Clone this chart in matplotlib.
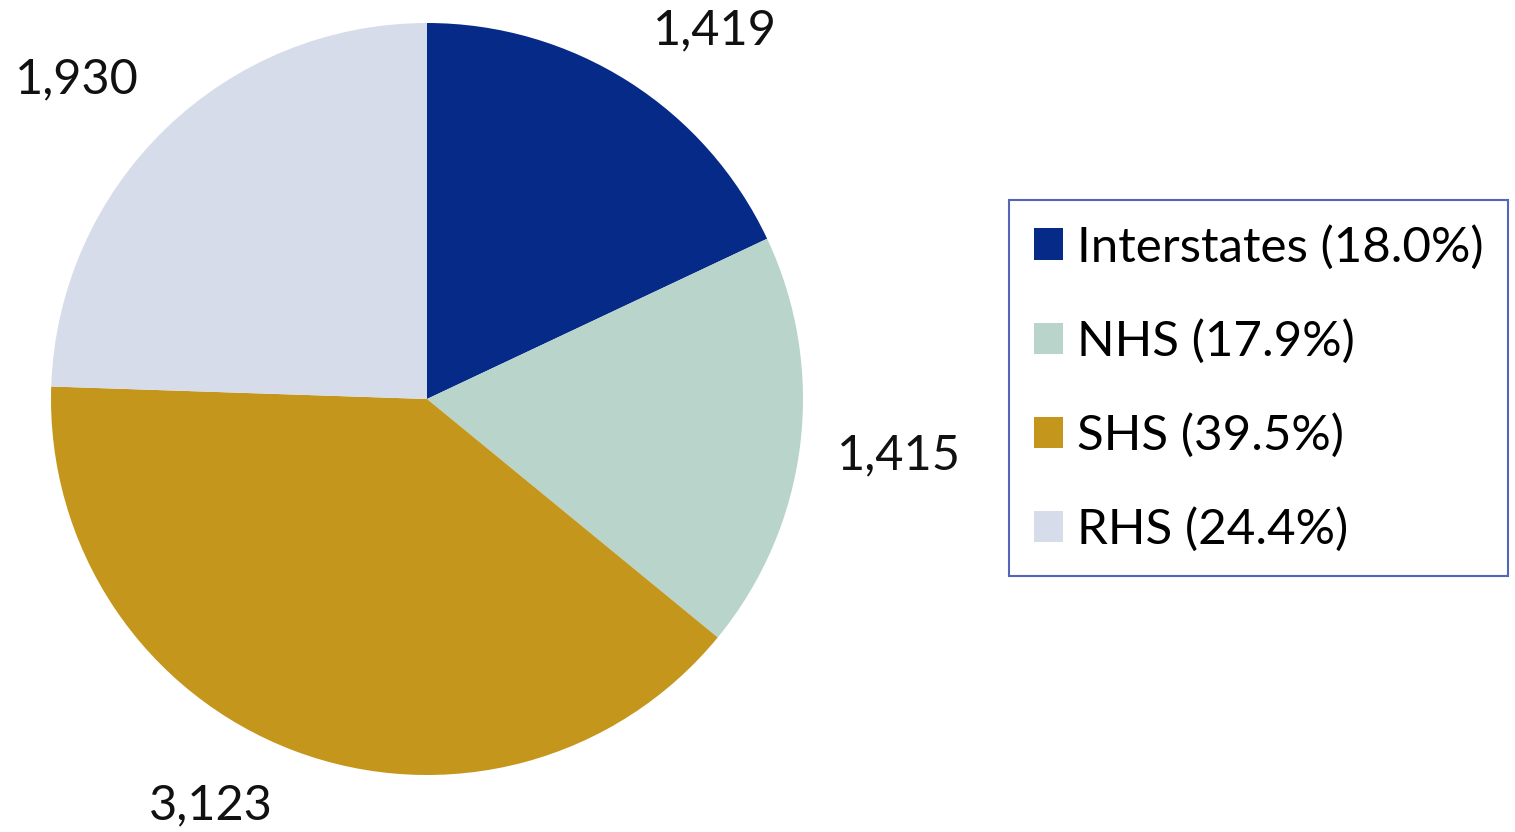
import matplotlib
matplotlib.use("Agg")
import matplotlib.pyplot as plt
from matplotlib.patches import Patch

categories = ["Interstates", "NHS", "SHS", "RHS"]
values = [1419, 1415, 3123, 1930]
percent_labels = ["18.0%", "17.9%", "39.5%", "24.4%"]
colors = ["#062A87", "#B8D4CB", "#C4961C", "#D6DCE9"]

# label positions (pie data coords, radius = 1)
label_pos = [(0.766, 0.981), (1.255, -0.149), (-0.574, -1.08), (-0.931, 0.849)]

plt.rcParams['font.family'] = ['Lato', 'DejaVu Sans']

W, H = 1515, 832
fig = plt.figure(figsize=(W / 100, H / 100), dpi=100)
cx, cy, r = 427, 399, 376
ax = fig.add_axes([(cx - r) / W, 1 - (cy + r) / H, 2 * r / W, 2 * r / H])
ax.pie(values, colors=colors, startangle=90, counterclock=False, radius=1,
       wedgeprops=dict(linewidth=0))
ax.set_xlim(-1, 1)
ax.set_ylim(-1, 1)
ax.set_aspect('equal')
ax.axis('off')

for v, (x, y) in zip(values, label_pos):
    ax.text(x, y, f"{v:,}", ha='center', va='center', fontsize=35, color='#111111',
            clip_on=False)

handles = [Patch(facecolor=c, edgecolor='none') for c in colors]
labels = [f"{c} ({p})" for c, p in zip(categories, percent_labels)]
leg = fig.legend(handles, labels, loc='upper left',
                 bbox_to_anchor=(1009 / W, 1 - 200 / H),
                 fontsize=35.5, frameon=True, fancybox=False,
                 edgecolor='#2A3FA6', handlelength=0.6, handleheight=0.6,
                 handletextpad=0.28, labelspacing=1.0, borderpad=0.5,
                 borderaxespad=0)
leg.get_frame().set_linewidth(1.5)
fig.savefig("out.png", dpi=100, facecolor='white')
